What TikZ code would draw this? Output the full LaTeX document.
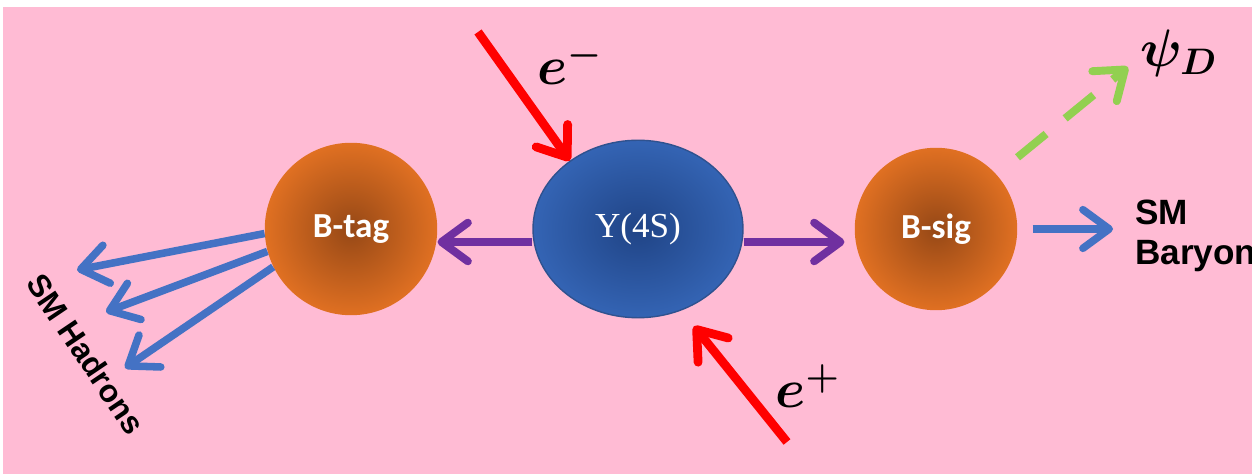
\documentclass[tikz,border=0pt]{standalone}
\usepackage{fix-cm}
\usepackage{fontspec}
\setmainfont{Liberation Serif}
\newfontfamily\calibrifont{Carlito}
\newfontfamily\arialfont{Liberation Sans}
\usetikzlibrary{arrows.meta,shapes.geometric}
\definecolor{bgpink}{RGB}{255,187,212}
\definecolor{borange}{RGB}{224,112,34}
\definecolor{borangedark}{RGB}{150,72,22}
\definecolor{ublue}{RGB}{52,100,180}
\definecolor{ubluedark}{RGB}{32,68,134}
\definecolor{uborder}{RGB}{47,82,143}
\definecolor{arrpurple}{RGB}{112,48,160}
\definecolor{arrblue}{RGB}{68,114,196}
\definecolor{arrgreen}{RGB}{146,208,80}
\begin{document}
\begin{tikzpicture}[x=0.02cm,y=-0.02cm,
  ball/.style={circle, inner sep=0pt, shade, shading=radial, inner color=borangedark, outer color=borange,
    text=white, font=\calibrifont\bfseries\fontsize{20}{23}\selectfont},
  barb/.style={-{Straight Barb[length=15pt,width=22pt,round]}},
  purparrow/.style={barb, draw=arrpurple, line width=4.5pt},
  bluearrow/.style={barb, draw=arrblue, line width=4.3pt},
  redarrow/.style={barb, draw=red, line width=5pt},
  greenarrow/.style={barb, draw=arrgreen, line width=4.5pt, dash pattern=on 21pt off 14pt},
  mathlabel/.style={anchor=base west, inner sep=0pt},
  smlabel/.style={inner sep=0pt, font=\arialfont\bfseries\fontsize{18}{23}\selectfont}
]
\useasboundingbox (0,0) rectangle (1252,475);
\fill[white] (0,0) rectangle (1252,475);
\fill[bgpink] (3,7) rectangle (1252,474);

% main particles
\node[ball, minimum size=3.45cm] (btag) at (351,229) {B-tag};
\node[ellipse, draw=uborder, line width=0.8pt, shade, shading=radial, inner color=ubluedark, outer color=ublue,
  minimum width=4.2cm, minimum height=3.55cm, inner sep=0pt, text=white,
  font=\fontsize{20}{24}\selectfont] (ups) at (638,229) {Y(4S)};
\node[ball, minimum size=3.25cm] (bsig) at (936,229) {B-sig};

% labels
\node[mathlabel, font=\fontsize{31}{35}\selectfont\boldmath] (em) at (537,85) {$e^-$};
\node[mathlabel, font=\fontsize{31}{35}\selectfont\boldmath] (ep) at (775,408) {$e^+$};
\node[mathlabel, font=\fontsize{30}{34}\selectfont\boldmath] (psi) at (1140,67) {$\psi_D$};
\node[smlabel, anchor=west, align=left, font=\arialfont\bfseries\fontsize{20}{23}\selectfont] (sm) at (1135,236) {SM\\Baryons};
\node[smlabel, rotate=-56] (had) at (86,354) {SM Hadrons};

% free ends
\coordinate (etail) at (478,32);
\coordinate (ptail) at (787,442);
\coordinate (psitip) at (1128,67);
\coordinate (h1) at (77,270);
\coordinate (h2) at (106,312);
\coordinate (h3) at (125,368);

% connectors
\draw[redarrow] (etail) -- (ups.135);
\draw[redarrow, shorten >=0.4cm] (ptail) -- (ups.-62);
\draw[purparrow] ([yshift=-0.26cm]ups.west) -- ([yshift=-0.26cm]btag.east);
\draw[purparrow, shorten >=0.2cm] ([yshift=-0.26cm]ups.east) -- ([yshift=-0.26cm]bsig.west);
\draw[greenarrow, shorten <=0.54cm] (bsig.42) -- (psitip);
\draw[bluearrow, shorten <=0.3cm, shorten >=0.44cm] (bsig.east) -- (bsig.east -| sm.west);
\draw[bluearrow] (btag.183) -- (h1);
\draw[bluearrow] (btag.195) -- (h2);
\draw[bluearrow] (btag.206) -- (h3);
\end{tikzpicture}
\end{document}
